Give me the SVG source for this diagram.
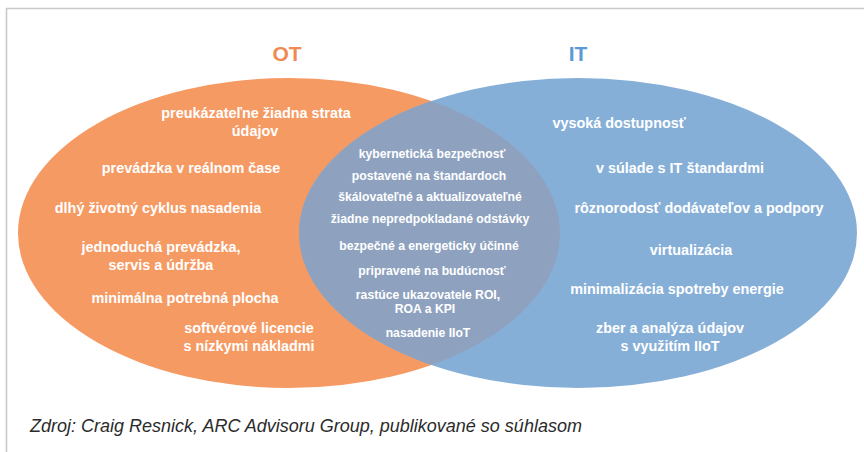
<svg xmlns="http://www.w3.org/2000/svg" width="864" height="452" viewBox="0 0 864 452">
  <style>
    .frame { fill: none; stroke: #c9c9c9; stroke-width: 1.6; }
    .title { font-family: "Liberation Sans Narrow", "Liberation Sans", Roboto, sans-serif; font-weight: bold; font-size: 21px; text-anchor: middle; }
    .lbl { font-family: "Liberation Sans Narrow", "Liberation Sans", Roboto, sans-serif; font-weight: bold; font-size: 14.4px; fill: #ffffff; text-anchor: middle; }
    .mid { font-family: "Liberation Sans Narrow", "Liberation Sans", Roboto, sans-serif; font-weight: bold; font-size: 12.2px; fill: #ffffff; text-anchor: middle; }
    .src { font-family: "Liberation Sans", Arial, sans-serif; font-style: italic; font-size: 18px; fill: #2b2b2b; }
  </style>
  <defs>
    <clipPath id="otClip">
      <ellipse cx="289" cy="233" rx="271" ry="155"/>
    </clipPath>
  </defs>

  <rect width="864" height="452" fill="#ffffff"/>
  <!-- page frame, open on the right and bottom -->
  <path class="frame" d="M6.5 460 V8.5 H870"/>

  <!-- OT set -->
  <g id="ot">
    <ellipse cx="289" cy="233" rx="271" ry="155" fill="#f69a64"/>
    <text class="title" x="287" y="61" fill="#f08a52">OT</text>
  </g>

  <!-- IT set -->
  <g id="it">
    <ellipse cx="578" cy="233" rx="279" ry="155" fill="#86afd8"/>
    <text class="title" x="578" y="61" fill="#5b9bd5">IT</text>
  </g>

  <!-- shared area of both sets -->
  <g id="both">
    <ellipse cx="578" cy="233" rx="279" ry="155" fill="#8ea2bf" clip-path="url(#otClip)"/>
  </g>

  <!-- OT-only items -->
  <g id="ot-items">
    <text class="lbl" x="256" y="118">preukázateľne žiadna strata</text>
    <text class="lbl" x="255" y="136">údajov</text>
    <text class="lbl" x="191" y="173">prevádzka v reálnom čase</text>
    <text class="lbl" x="158" y="213">dlhý životný cyklus nasadenia</text>
    <text class="lbl" x="161" y="252">jednoduchá prevádzka,</text>
    <text class="lbl" x="161" y="270">servis a údržba</text>
    <text class="lbl" x="185" y="303">minimálna potrebná plocha</text>
    <text class="lbl" x="249" y="333">softvérové licencie</text>
    <text class="lbl" x="249" y="351">s nízkymi nákladmi</text>
  </g>

  <!-- IT-only items -->
  <g id="it-items">
    <text class="lbl" x="619" y="128">vysoká dostupnosť</text>
    <text class="lbl" x="680" y="173">v súlade s IT štandardmi</text>
    <text class="lbl" x="699" y="213">rôznorodosť dodávateľov a podpory</text>
    <text class="lbl" x="691" y="255">virtualizácia</text>
    <text class="lbl" x="677" y="294">minimalizácia spotreby energie</text>
    <text class="lbl" x="670" y="333">zber a analýza údajov</text>
    <text class="lbl" x="670" y="351">s využitím IIoT</text>
  </g>

  <!-- items common to OT and IT -->
  <g id="both-items">
    <text class="mid" x="432" y="158">kybernetická bezpečnosť</text>
    <text class="mid" x="429" y="180">postavené na štandardoch</text>
    <text class="mid" x="430" y="201">škálovateľné a aktualizovateľné</text>
    <text class="mid" x="430" y="223">žiadne nepredpokladané odstávky</text>
    <text class="mid" x="429" y="250">bezpečné a energeticky účinné</text>
    <text class="mid" x="432" y="275">pripravené na budúcnosť</text>
    <text class="mid" x="428" y="299">rastúce ukazovatele ROI,</text>
    <text class="mid" x="425" y="313">ROA a KPI</text>
    <text class="mid" x="428" y="337">nasadenie IIoT</text>
  </g>

  <g id="connectors"/>

  <text class="src" x="30" y="432">Zdroj: Craig Resnick, ARC Advisoru Group, publikované so súhlasom</text>
</svg>
